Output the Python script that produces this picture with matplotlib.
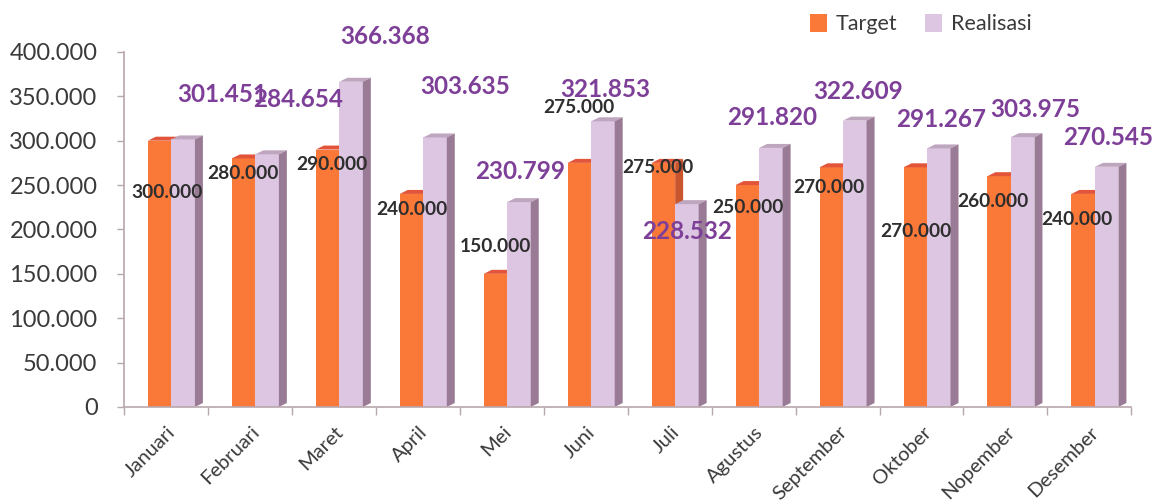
import matplotlib
matplotlib.use("Agg")
import matplotlib.pyplot as plt
from matplotlib.patches import Polygon, Patch
import numpy as np

# data
bulan = ["Januari", "Februari", "Maret", "April", "Mei", "Juni", "Juli",
         "Agustus", "September", "Oktober", "Nopember", "Desember"]
target = [300000, 280000, 290000, 240000, 150000, 275000, 275000,
          250000, 270000, 270000, 260000, 240000]
realisasi = [301451, 284654, 366368, 303635, 230799, 321853, 228532,
             291820, 322609, 291267, 303975, 270545]

# where Excel left the data labels (x offset from category, y in value units)
target_lbl_dx = [0.01, -0.08, -0.02, -0.07, -0.08, -0.08, -0.135, -0.07, -0.10, -0.07, -0.15, -0.15]
target_lbl_y = [242000, 262500, 272700, 222000, 180300, 336900, 269300, 224200, 246800, 197200, 231000, 210700]
real_lbl_dx = [0.67, 0.57, 0.61, 0.56, 0.22, 0.23, 0.21, 0.22, 0.24, 0.23, 0.35, 0.22]
real_lbl_y = [351500, 345900, 416900, 360600, 264800, 357200, 197200, 325600, 354900, 323400, 334600, 303100]

plt.rcParams['font.family'] = ['Lato', 'DejaVu Sans']

ORANGE = "#FA7838"
ORANGE_TOP = "#E2553A"
ORANGE_SIDE = "#C9552E"
LILAC = "#DCC6E2"
LILAC_TOP = "#BFA6BF"
LILAC_SIDE = "#9A7B95"
LBL_PURPLE = "#7D3F97"
AXIS = "#B7A7AD"

fig = plt.figure(figsize=(11.58, 5.04), dpi=100)
ax = fig.add_axes([0.107, 0.1925, 0.87, 0.7045])

w = 0.28
dx = 0.095
dy = 4500


def bar3d(x0, h, front, top, side):
    ax.bar(x0 + w / 2, h, w, color=front, linewidth=0, zorder=2)
    ax.add_patch(Polygon([(x0, h), (x0 + w, h), (x0 + w + dx, h + dy), (x0 + dx, h + dy)],
                         closed=True, facecolor=top, edgecolor='none', zorder=2, clip_on=False))
    ax.add_patch(Polygon([(x0 + w, 0), (x0 + w + dx, dy), (x0 + w + dx, h + dy), (x0 + w, h)],
                         closed=True, facecolor=side, edgecolor='none', zorder=2, clip_on=False))


x = np.arange(len(bulan))
for i in x:
    bar3d(i - 0.214, target[i], ORANGE, ORANGE_TOP, ORANGE_SIDE)
    bar3d(i - 0.214 + w, realisasi[i], LILAC, LILAC_TOP, LILAC_SIDE)

fmt = lambda v: f"{v:,.0f}".replace(",", ".")

for i in x:
    ax.text(i + target_lbl_dx[i], target_lbl_y[i], fmt(target[i]), ha='center', va='center',
            fontsize=13.8, fontweight='bold', color="#2E2E2E", zorder=5, clip_on=False)
    ax.text(i + real_lbl_dx[i], real_lbl_y[i], fmt(realisasi[i]), ha='center', va='center',
            fontsize=17.5, fontweight='bold', color=LBL_PURPLE, zorder=5, clip_on=False)

ax.set_xlim(-0.5, len(bulan) - 0.5)
ax.set_ylim(0, 400000)

yt = np.arange(0, 400001, 50000)
ax.set_yticks(yt)
ax.set_yticklabels([fmt(v) for v in yt], fontsize=17, color="#3A3A3A")
ax.tick_params(axis='y', length=5, width=1, color=AXIS, pad=14)

ax.set_xticks(np.arange(-0.5, len(bulan)), minor=False)
ax.set_xticklabels([])
ax.tick_params(axis='x', which='major', length=6, width=1, color=AXIS)
ax.set_xticks(x + 0.08, minor=True)
ax.set_xticklabels(bulan, minor=True, rotation=45, ha='right', va='center',
                   rotation_mode='anchor', fontsize=14.5, color="#3A3A3A")
ax.tick_params(axis='x', which='minor', length=0, pad=16)

for s in ['top', 'right']:
    ax.spines[s].set_visible(False)
for s in ['left', 'bottom']:
    ax.spines[s].set_color(AXIS)
    ax.spines[s].set_linewidth(1.2)

handles = [Patch(facecolor=ORANGE, edgecolor='none', label="Target"),
           Patch(facecolor=LILAC, edgecolor='none', label="Realisasi")]
fig.legend(handles=handles, loc='center left', bbox_to_anchor=(0.69, 0.952), ncol=2,
           frameon=False, fontsize=15.5, handlelength=0.8, handleheight=0.9,
           handletextpad=0.4, columnspacing=1.3, borderpad=0, labelcolor="#3A3A3A")

plt.savefig("out.png", dpi=100)
